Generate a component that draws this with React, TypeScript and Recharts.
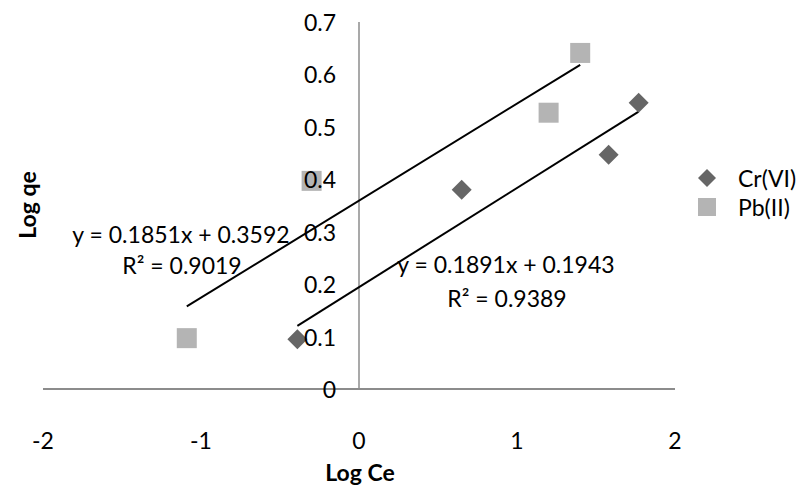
import React from 'react'
import {
  ScatterChart,
  Scatter,
  XAxis,
  YAxis,
  ReferenceLine,
} from 'recharts'

const crX = [-0.39, 0.65, 1.58, 1.77]
const crY = [0.095, 0.38, 0.447, 0.546]
const pbX = [-1.09, -0.3, 1.2, 1.4]
const pbY = [0.097, 0.397, 0.527, 0.641]

const xTicks = [-2, -1, 0, 1, 2]
const yTicks = [0, 0.1, 0.2, 0.3, 0.4, 0.5, 0.6, 0.7]

// trendline coefficients as printed on the chart
const crFit = { slope: 0.1891, intercept: 0.1943, r2: '0.9389' }
const pbFit = { slope: 0.1851, intercept: 0.3592, r2: '0.9019' }

const CR_COLOR = '#666666'
const PB_COLOR = '#b4b4b4'
const AXIS_COLOR = '#8c8c8c'
const FONT = 'Lato, "Open Sans", sans-serif'

const W = 799
const H = 488
const Y_AXIS_W = 43
const M = { top: 22, right: 124, bottom: 49, left: 0 }
const X_MIN = -2
const X_MAX = 2
const PLOT_W = W - Y_AXIS_W - M.right
const X_ZERO = Y_AXIS_W + ((0 - X_MIN) / (X_MAX - X_MIN)) * PLOT_W

const crData = crX.map((x, i) => ({ x, y: crY[i] }))
const pbData = pbX.map((x, i) => ({ x, y: pbY[i] }))

function fitSegment(xs: number[], fit: { slope: number; intercept: number }) {
  const x1 = Math.min(...xs)
  const x2 = Math.max(...xs)
  return [
    { x: x1, y: fit.slope * x1 + fit.intercept },
    { x: x2, y: fit.slope * x2 + fit.intercept },
  ]
}

const Diamond = ({ cx, cy, r = 10, fill }: any) => (
  <polygon
    points={`${cx},${cy - r} ${cx + r},${cy} ${cx},${cy + r} ${cx - r},${cy}`}
    fill={fill}
  />
)

const Square = ({ cx, cy, s = 20, fill }: any) => (
  <rect x={cx - s / 2} y={cy - s / 2} width={s} height={s} fill={fill} />
)

const XTick = ({ x, y, payload }: any) => (
  <text x={x} y={y + 43} textAnchor="middle" dominantBaseline="central" fontSize={23} fontFamily={FONT} fill="#000">
    {payload.value}
  </text>
)

const YTick = ({ y, payload }: any) => (
  <text x={X_ZERO - 23} y={y} textAnchor="end" dominantBaseline="central" fontSize={23} fontFamily={FONT} fill="#000">
    {payload.value}
  </text>
)

const label: React.CSSProperties = {
  position: 'absolute',
  fontFamily: FONT,
  fontSize: 23,
  color: '#000',
  whiteSpace: 'nowrap',
  lineHeight: '26px',
  transform: 'translate(-50%, -50%)',
}

export default function App() {
  return (
    <div style={{ position: 'absolute', left: 0, top: 0, width: W, height: H, background: '#fff', overflow: 'hidden' }}>
      <ScatterChart width={W} height={H} margin={M}>
        <XAxis
          type="number"
          dataKey="x"
          domain={[X_MIN, X_MAX]}
          ticks={xTicks}
          height={50}
          tickLine={false}
          axisLine={{ stroke: AXIS_COLOR, strokeWidth: 2 }}
          tick={<XTick />}
          interval={0}
        />
        <YAxis
          type="number"
          dataKey="y"
          domain={[0, 0.7]}
          ticks={yTicks}
          width={Y_AXIS_W}
          tickLine={false}
          axisLine={false}
          tick={<YTick />}
          interval={0}
        />
        <ReferenceLine x={0} stroke={AXIS_COLOR} strokeWidth={1.5} />
        <ReferenceLine segment={fitSegment(pbX, pbFit)} stroke="#000" strokeWidth={2} ifOverflow="visible" />
        <ReferenceLine segment={fitSegment(crX, crFit)} stroke="#000" strokeWidth={2} ifOverflow="visible" />
        <Scatter name="Cr(VI)" data={crData} fill={CR_COLOR} shape={<Diamond />} isAnimationActive={false} />
        <Scatter name="Pb(II)" data={pbData} fill={PB_COLOR} shape={<Square />} isAnimationActive={false} />
      </ScatterChart>

      <div style={{ ...label, left: 181, top: 234 }}>
        y = {pbFit.slope}x + {pbFit.intercept}
      </div>
      <div style={{ ...label, left: 182, top: 265 }}>
        R² = {pbFit.r2}
      </div>
      <div style={{ ...label, left: 506, top: 264 }}>
        y = {crFit.slope}x + {crFit.intercept}
      </div>
      <div style={{ ...label, left: 507, top: 298 }}>
        R² = {crFit.r2}
      </div>

      <div style={{ ...label, fontWeight: 700, left: 27, top: 205, transform: 'translate(-50%, -50%) rotate(-90deg)' }}>
        Log qe
      </div>

      <svg style={{ position: 'absolute', left: 0, top: 0 }} width={W} height={H} pointerEvents="none">
        <text x={360} y={481} textAnchor="middle" fontSize={23} fontWeight={700} fontFamily={FONT}>Log Ce</text>
        <Diamond cx={707} cy={178} r={9} fill={CR_COLOR} />
        <Square cx={707} cy={207} s={18} fill={PB_COLOR} />
        <text x={738} y={178} dominantBaseline="central" fontSize={23} fontFamily={FONT}>Cr(VI)</text>
        <text x={738} y={207} dominantBaseline="central" fontSize={23} fontFamily={FONT}>Pb(II)</text>
      </svg>
    </div>
  )
}
